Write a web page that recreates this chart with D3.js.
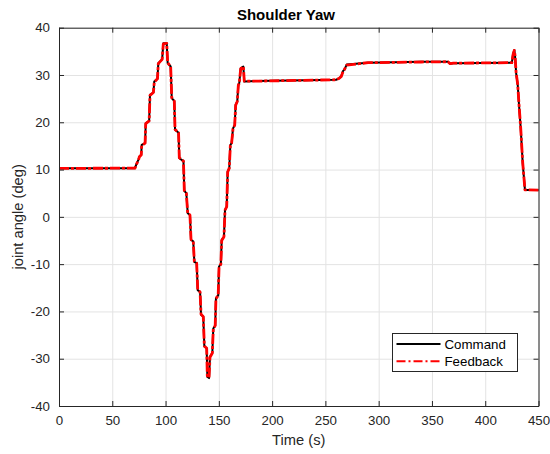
<!DOCTYPE html>
<html>
<head>
<meta charset="utf-8">
<script src="https://cdn.jsdelivr.net/npm/d3@7"></script>
<style>
  html, body { margin: 0; padding: 0; background: #ffffff; }
  svg { display: block; font-family: "Liberation Sans", Arial, Helvetica, sans-serif; }
</style>
</head>
<body>
<svg id="chart" width="550" height="454"></svg>
<script>
// Shoulder yaw joint: commanded vs. measured angle over the run
const time = [0, 71.3, 72.9, 74.6, 75.4, 77.2, 77.6, 80.8, 81.4, 84.6, 85.4, 88.6, 89.4, 92.4, 93.2, 96.8, 97.9, 101.1, 102, 104.8,
  105.8, 108.2, 108.9, 112.2, 112.9, 116.8, 117.6, 119.5, 120.8, 122.9, 123.9, 126, 127, 129.2, 130.2, 132.4, 133.3, 135.4, 136.4, 138.6,
  139.2, 140.8, 141.7, 143.9, 144.8, 146.6, 147.3, 149.4, 150.2, 151.9, 152.7, 154.8, 155.8, 157.4, 158.3, 159.8, 160.8, 162, 163.3, 164.9,
  165.8, 167.3, 168.3, 169.2, 170.5, 173, 173.9, 185.8, 260, 263, 265, 266.5, 268, 270, 290, 340, 365, 367, 370, 425,
  426.2, 427.3, 428, 429, 430.5, 431.7, 433.3, 435.2, 437.3, 450];

const command = [10.3, 10.3, 11.3, 12.1, 12.7, 13.2, 15.2, 15.6, 19.8, 20.3, 25.8, 26.3, 28.6, 29.2, 32.5, 33.3, 36.7, 36.7, 32.5, 31.8,
  25.1, 24.5, 18.4, 17.8, 12.4, 11.8, 5.5, 5.0, 0.76, 0.4, -4.9, -5.2, -9.5, -9.8, -15.5, -15.9, -20.7, -21.1, -27.4, -27.8,
  -33.8, -34.1, -29.6, -28.8, -23.6, -23.0, -17.2, -16.6, -10.5, -10.0, -4.9, -4.2, 1.46, 2.16, 9.56, 10.3, 15.2, 15.6, 18.7, 19.4,
  23.7, 24.4, 27.9, 28.3, 31.4, 31.8, 28.6, 28.75, 29.0, 29.3, 29.8, 30.8, 31.2, 32.2, 32.6, 32.8, 32.8, 32.35, 32.5, 32.6,
  34.5, 35.3, 34.0, 30.4, 27.9, 23.7, 18.7, 11.3, 5.66, 5.66];

const feedback = [10.25, 10.3, 11.2, 12.0, 12.7, 13.1, 15.1, 15.6, 19.7, 20.3, 25.7, 26.3, 28.5, 29.2, 32.4, 33.3, 36.6, 36.7, 32.6, 31.8,
  25.2, 24.5, 18.5, 17.8, 12.5, 11.8, 5.6, 5.0, 0.8, 0.4, -4.8, -5.2, -9.4, -9.8, -15.4, -15.9, -20.6, -21.1, -27.3, -27.8,
  -33.7, -34.0, -29.7, -28.8, -23.7, -23.0, -17.3, -16.6, -10.6, -10.0, -5.0, -4.2, 1.4, 2.16, 9.5, 10.3, 15.1, 15.6, 18.6, 19.4,
  23.6, 24.4, 27.8, 28.3, 31.3, 31.8, 28.7, 28.7, 29.0, 29.3, 29.7, 30.7, 31.2, 32.1, 32.6, 32.75, 32.8, 32.4, 32.5, 32.6,
  34.4, 35.2, 34.1, 30.5, 28.0, 23.8, 18.8, 11.4, 5.7, 5.66];

const xTicks = [0, 50, 100, 150, 200, 250, 300, 350, 400, 450];
const yTicks = [-40, -30, -20, -10, 0, 10, 20, 30, 40];
const seriesNames = ["Command", "Feedback"];

const svg = d3.select("#chart");
const margin = { left: 59, right: 550 - 538.5, top: 27.7, bottom: 454 - 406 };
const plotW = 550 - margin.left - margin.right;
const plotH = 454 - margin.top - margin.bottom;

const x = d3.scaleLinear().domain([0, 450]).range([0, plotW]);
const y = d3.scaleLinear().domain([-40, 40]).range([plotH, 0]);

const axisColor = "#262626";
const plainNum = d => String(d);
const g = svg.append("g").attr("transform", `translate(${margin.left},${margin.top})`);

// background grid
g.append("g")
  .attr("transform", `translate(0,${plotH})`)
  .call(d3.axisBottom(x).tickValues(xTicks).tickSize(-plotH).tickFormat(""))
  .call(s => s.select(".domain").remove())
  .call(s => s.selectAll("line").attr("stroke", "#e3e3e3").attr("stroke-width", 1));
g.append("g")
  .call(d3.axisLeft(y).tickValues(yTicks).tickSize(-plotW).tickFormat(""))
  .call(s => s.select(".domain").remove())
  .call(s => s.selectAll("line").attr("stroke", "#e3e3e3").attr("stroke-width", 1));

// data lines
const data = time.map((t, i) => ({ t, c: command[i], f: feedback[i] }));
const lineC = d3.line().x(d => x(d.t)).y(d => y(d.c));
const lineF = d3.line().x(d => x(d.t)).y(d => y(d.f));

g.append("path").datum(data)
  .attr("fill", "none").attr("stroke", "#000000").attr("stroke-width", 2)
  .attr("stroke-linejoin", "round").attr("d", lineC);
g.append("path").datum(data)
  .attr("fill", "none").attr("stroke", "#ff0000").attr("stroke-width", 2.8)
  .attr("stroke-dasharray", "10,2,3,2")
  .attr("stroke-linejoin", "round").attr("d", lineF);

// axes with inward ticks, box on all four sides
function styleAxis(s) {
  s.select(".domain").attr("stroke", axisColor).attr("stroke-width", 1);
  s.selectAll(".tick line").attr("stroke", axisColor);
  s.selectAll("text").attr("fill", axisColor).style("font-size", "13.3px")
    .style("font-family", "'Liberation Sans', Arial, Helvetica, sans-serif");
}
g.append("g")
  .attr("transform", `translate(0,${plotH})`)
  .call(d3.axisBottom(x).tickValues(xTicks).tickFormat(plainNum).tickSizeInner(-5).tickSizeOuter(0).tickPadding(10))
  .call(styleAxis);
g.append("g")
  .call(d3.axisTop(x).tickValues(xTicks).tickSizeInner(-5).tickSizeOuter(0).tickFormat(""))
  .call(styleAxis);
g.append("g")
  .call(d3.axisLeft(y).tickValues(yTicks).tickFormat(plainNum).tickSizeInner(-5).tickSizeOuter(0).tickPadding(9))
  .call(styleAxis);
g.append("g")
  .attr("transform", `translate(${plotW},0)`)
  .call(d3.axisRight(y).tickValues(yTicks).tickSizeInner(-5).tickSizeOuter(0).tickFormat(""))
  .call(styleAxis);

// title and axis labels
svg.append("text")
  .attr("x", 286).attr("y", 20)
  .attr("text-anchor", "middle")
  .style("font-size", "15px").style("font-weight", "bold")
  .attr("fill", "#000000")
  .text("Shoulder Yaw");

svg.append("text")
  .attr("x", margin.left + plotW / 2).attr("y", 445)
  .attr("text-anchor", "middle")
  .style("font-size", "14.7px")
  .attr("fill", axisColor)
  .text("Time (s)");

svg.append("text")
  .attr("transform", `translate(23,${margin.top + plotH / 2}) rotate(-90)`)
  .attr("text-anchor", "middle")
  .style("font-size", "14.7px")
  .attr("fill", axisColor)
  .text("joint angle (deg)");

// legend
const legend = svg.append("g").attr("transform", "translate(392.5,333.5)");
legend.append("rect")
  .attr("width", 125).attr("height", 38)
  .attr("fill", "#ffffff").attr("stroke", axisColor).attr("stroke-width", 1);
const legendStyles = [
  { color: "#000000", dash: null },
  { color: "#ff0000", dash: "9,3,2,3" }
];
seriesNames.forEach((name, i) => {
  const row = legend.append("g").attr("transform", `translate(0,${10.5 + i * 17.3})`);
  row.append("line")
    .attr("x1", 4).attr("x2", 48).attr("y1", 0).attr("y2", 0)
    .attr("stroke", legendStyles[i].color).attr("stroke-width", 2)
    .attr("stroke-dasharray", legendStyles[i].dash);
  row.append("text")
    .attr("x", 52).attr("y", 0).attr("dy", "0.35em")
    .style("font-size", "13.3px")
    .attr("fill", "#000000")
    .text(name);
});
</script>
</body>
</html>
